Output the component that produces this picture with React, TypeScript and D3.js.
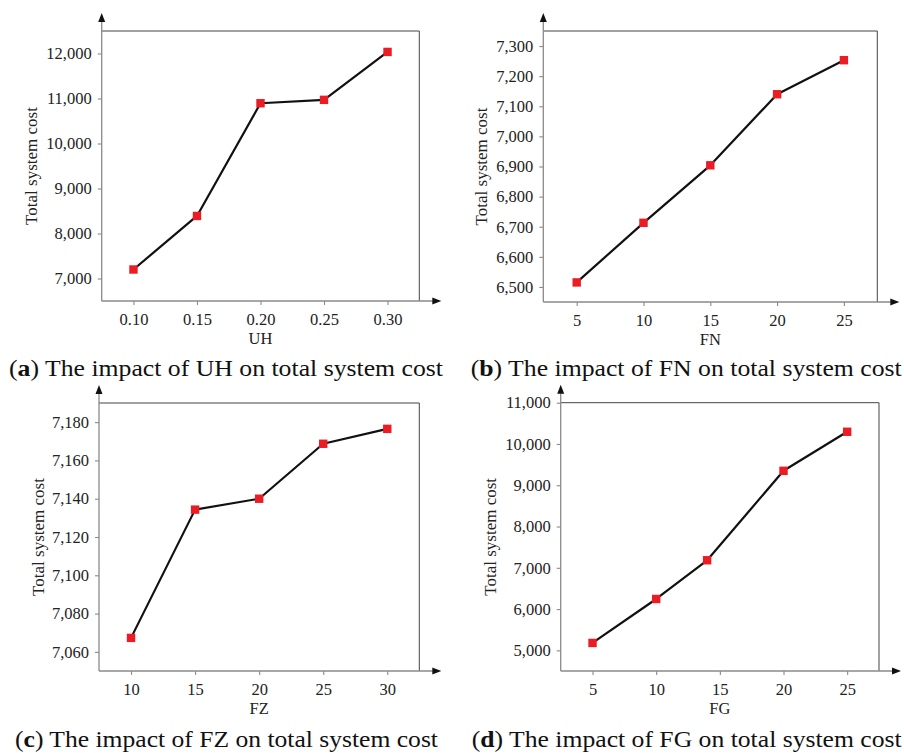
import { useEffect, useRef } from "react";
import * as d3 from "d3";

// panel (a): UH
const uhValues = [0.1, 0.15, 0.2, 0.25, 0.3];
const uhCost = [7200, 8390, 10895, 10970, 12035];
const uhTicks = [0.1, 0.15, 0.2, 0.25, 0.3];
const uhCostTicks = [7000, 8000, 9000, 10000, 11000, 12000];

// panel (b): FN
const fnValues = [5, 10, 15, 20, 25];
const fnCost = [6515, 6713, 6904, 7140, 7253];
const fnTicks = [5, 10, 15, 20, 25];
const fnCostTicks = [6500, 6600, 6700, 6800, 6900, 7000, 7100, 7200, 7300];

// panel (c): FZ
const fzValues = [10, 15, 20, 25, 30];
const fzCost = [7067.3, 7134.3, 7140, 7168.7, 7176.5];
const fzTicks = [10, 15, 20, 25, 30];
const fzCostTicks = [7060, 7080, 7100, 7120, 7140, 7160, 7180];

// panel (d): FG
const fgValues = [5, 10, 14, 20, 25];
const fgCost = [5180, 6245, 7183, 9350, 10296];
const fgTicks = [5, 10, 15, 20, 25];
const fgCostTicks = [5000, 6000, 7000, 8000, 9000, 10000, 11000];

const panels = [
    {
        letter: "a",
        name: "UH",
        xs: uhValues,
        ys: uhCost,
        xTicks: uhTicks,
        yTicks: uhCostTicks,
        xDomain: [0.075, 0.325],
        yDomain: [6500, 12500],
        xFormat: ".2f",
        box: { left: 101.7, top: 31, right: 419.3, bottom: 301 },
        titleOffset: 70,
        caption: { x: 9, y: 375.5, width: 434 },
    },
    {
        letter: "b",
        name: "FN",
        xs: fnValues,
        ys: fnCost,
        xTicks: fnTicks,
        yTicks: fnCostTicks,
        xDomain: [2.5, 27.5],
        yDomain: [6450, 7350],
        xFormat: "d",
        box: { left: 543.3, top: 31, right: 877.3, bottom: 302 },
        titleOffset: 62,
        caption: { x: 470.7, y: 375.5, width: 431 },
    },
    {
        letter: "c",
        name: "FZ",
        xs: fzValues,
        ys: fzCost,
        xTicks: fzTicks,
        yTicks: fzCostTicks,
        xDomain: [7.5, 32.5],
        yDomain: [7050, 7190],
        xFormat: "d",
        box: { left: 99, top: 403, right: 419.3, bottom: 671 },
        titleOffset: 60,
        caption: { x: 15, y: 746.5, width: 423 },
    },
    {
        letter: "d",
        name: "FG",
        xs: fgValues,
        ys: fgCost,
        xTicks: fgTicks,
        yTicks: fgCostTicks,
        xDomain: [2.5, 27.5],
        yDomain: [4500, 11000],
        xFormat: "d",
        box: { left: 560.7, top: 402.7, right: 879, bottom: 671 },
        titleOffset: 70,
        caption: { x: 471.7, y: 746.5, width: 430 },
    },
];

const SERIF = "Liberation Serif, Times New Roman, Times, serif";
const AXIS_GREY = "#8a8a8a";
const MARKER_RED = "#ec1c24";

function drawPanel(root, p) {
    const g = root.append("g");
    const { left, top, right, bottom } = p.box;

    const x = d3.scaleLinear().domain(p.xDomain).range([left, right]);
    const y = d3.scaleLinear().domain(p.yDomain).range([bottom, top]);

    // frame top + right
    g.append("path")
        .attr("d", `M${left},${top}H${right}V${bottom}`)
        .attr("fill", "none")
        .attr("stroke", "#444")
        .attr("stroke-width", 1);

    // axes
    const yAxis = g
        .append("g")
        .attr("transform", `translate(${left},0)`)
        .call(
            d3
                .axisLeft(y)
                .tickValues(p.yTicks)
                .tickSize(4)
                .tickPadding(6)
                .tickFormat(d3.format(","))
        );

    const xAxis = g
        .append("g")
        .attr("transform", `translate(0,${bottom})`)
        .call(
            d3
                .axisBottom(x)
                .tickValues(p.xTicks)
                .tickSize(4)
                .tickPadding(8)
                .tickFormat(d3.format(p.xFormat))
        );

    [yAxis, xAxis].forEach((ax) => {
        ax.attr("font-family", SERIF).attr("font-size", 16.5);
        ax.select(".domain").remove();
        ax.selectAll("line").attr("stroke", AXIS_GREY).attr("stroke-width", 1.1);
        ax.selectAll("text").attr("fill", "#222");
    });

    // axis lines with arrows
    const arrowLen = 18;
    const xArrowLen = 22;
    g.append("line")
        .attr("x1", left)
        .attr("x2", left)
        .attr("y1", bottom)
        .attr("y2", top - arrowLen + 8)
        .attr("stroke", AXIS_GREY)
        .attr("stroke-width", 1.3);
    g.append("line")
        .attr("x1", left)
        .attr("x2", right + xArrowLen - 8)
        .attr("y1", bottom)
        .attr("y2", bottom)
        .attr("stroke", AXIS_GREY)
        .attr("stroke-width", 1.3);
    g.append("path")
        .attr(
            "d",
            `M${left},${top - arrowLen}L${left - 3.5},${top - arrowLen + 9}L${left + 3.5},${top - arrowLen + 9}Z`
        )
        .attr("fill", "#111");
    g.append("path")
        .attr(
            "d",
            `M${right + xArrowLen},${bottom}L${right + xArrowLen - 9},${bottom - 3.5}L${right + xArrowLen - 9},${bottom + 3.5}Z`
        )
        .attr("fill", "#111");

    // axis titles
    g.append("text")
        .attr("x", (left + right) / 2)
        .attr("y", bottom + 43)
        .attr("text-anchor", "middle")
        .attr("fill", "#222")
        .attr("font-family", SERIF)
        .attr("font-size", 16.5)
        .text(p.name);

    g.append("text")
        .attr(
            "transform",
            `translate(${left - p.titleOffset},${(top + bottom) / 2}) rotate(-90)`
        )
        .attr("dy", "0.32em")
        .attr("text-anchor", "middle")
        .attr("fill", "#222")
        .attr("font-family", SERIF)
        .attr("font-size", 17)
        .text("Total system cost");

    // series
    const points = p.xs.map((v, i) => [v, p.ys[i]]);
    const line = d3
        .line()
        .x((d) => x(d[0]))
        .y((d) => y(d[1]));

    g.append("path")
        .attr("d", line(points))
        .attr("fill", "none")
        .attr("stroke", "#111")
        .attr("stroke-width", 2.2)
        .attr("stroke-linejoin", "round");

    const s = 8.4;
    g.selectAll(".marker")
        .data(points)
        .join("rect")
        .attr("class", "marker")
        .attr("x", (d) => x(d[0]) - s / 2)
        .attr("y", (d) => y(d[1]) - s / 2)
        .attr("width", s)
        .attr("height", s)
        .attr("fill", MARKER_RED);

    // caption
    const cap = g
        .append("text")
        .attr("x", p.caption.x)
        .attr("y", p.caption.y)
        .attr("textLength", p.caption.width)
        .attr("lengthAdjust", "spacingAndGlyphs")
        .attr("fill", "#111")
        .attr("font-family", SERIF)
        .attr("font-size", 23);
    cap.append("tspan").text("(");
    cap.append("tspan").attr("font-weight", "bold").text(p.letter);
    cap.append("tspan").text(`) The impact of ${p.name} on total system cost`);
}

export default function App() {
    const svgRef = useRef(null);

    useEffect(() => {
        const svg = d3.select(svgRef.current);
        svg.selectAll("*").remove();
        panels.forEach((p) => drawPanel(svg, p));
    }, []);

    return (
        <svg
            ref={svgRef}
            width={904}
            height={753}
            viewBox="0 0 904 753"
            style={{ position: "absolute", left: 0, top: 0, background: "#fff" }}
        />
    );
}
